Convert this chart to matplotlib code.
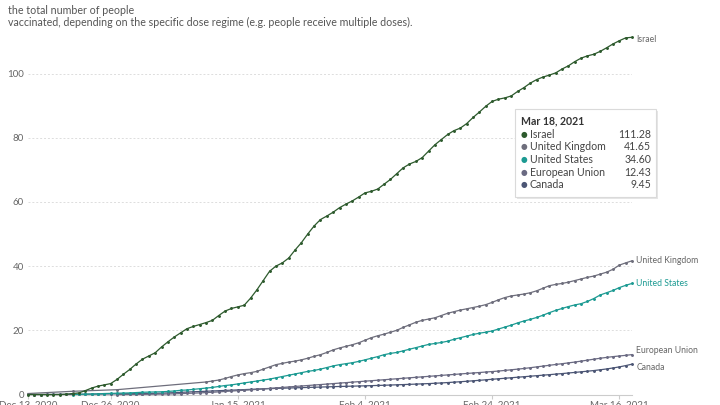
import matplotlib
matplotlib.use("Agg")
import matplotlib.pyplot as plt
from matplotlib.patches import Rectangle
import pandas as pd

plt.rcParams['font.family'] = ['Lato', 'DejaVu Sans']

# ---------------- data ----------------
subtitle_lines = ["the total number of people",
                  "vaccinated, depending on the specific dose regime (e.g. people receive multiple doses)."]

x_start = "2020-12-13"
x_end = "2021-03-18"
tick_dates = ["2020-12-13", "2020-12-26", "2021-01-15", "2021-02-04", "2021-02-24", "2021-03-16"]
tick_labels = ["Dec 13, 2020", "Dec 26, 2020", "Jan 15, 2021", "Feb 4, 2021", "Feb 24, 2021", "Mar 16, 2021"]
y_ticks = [0, 20, 40, 60, 80, 100]

israel_start = "2020-12-13"
israel = [0, 0, 0, 0, 0, 0, 0.1, 0.3, 0.5, 1.2, 2.0, 2.6, 3.0, 3.4, 4.7, 6.3, 7.8, 9.5, 11.0, 12.0,
          13.0, 14.8, 16.4, 17.9, 19.2, 20.5, 21.2, 21.8, 22.4, 23.1, 24.6, 26.0, 26.8, 27.3, 27.8,
          30.0, 32.6, 35.5, 38.4, 40.0, 41.0, 42.5, 45.0, 47.3, 50.0, 52.5, 54.5, 55.6, 56.8, 58.2,
          59.3, 60.3, 61.5, 62.8, 63.3, 64.0, 65.5, 67.0, 68.8, 70.6, 71.8, 72.6, 73.8, 75.8, 77.8,
          79.4, 81.0, 82.2, 83.0, 84.4, 86.3, 88.0, 89.8, 91.3, 92.0, 92.4, 93.0, 94.4, 95.6, 97.0,
          98.1, 98.9, 99.5, 100.2, 101.4, 102.4, 103.7, 104.8, 105.5, 106.0, 106.9, 108.0, 109.2,
          110.2, 111.1, 111.28]

uk_early_dates = ["2020-12-13", "2020-12-20", "2020-12-27"]
uk_early = [0.3, 1.0, 1.5]
uk_daily_start = "2021-01-10"
uk_daily = [3.9, 4.2, 4.5, 5.0, 5.6, 6.1, 6.5, 6.8, 7.2, 7.9, 8.6, 9.3, 9.7, 10.1, 10.4, 10.8, 11.3,
            11.9, 12.4, 13.1, 13.9, 14.5, 15.0, 15.5, 16.1, 16.9, 17.7, 18.3, 18.8, 19.4, 20.0, 20.9,
            21.7, 22.5, 23.1, 23.5, 23.9, 24.6, 25.3, 25.8, 26.3, 26.7, 27.1, 27.5, 28.0, 28.7, 29.5,
            30.2, 30.7, 31.0, 31.3, 31.7, 32.3, 33.1, 33.9, 34.3, 34.6, 35.0, 35.5, 36.0, 36.5, 36.9,
            37.5, 38.1, 39.0, 40.3, 41.0, 41.65]

us_start = "2020-12-20"
us = [0.0, 0.05, 0.1, 0.15, 0.2, 0.3, 0.35, 0.4, 0.45, 0.5, 0.6, 0.7, 0.75, 0.8, 0.85, 0.95, 1.1,
      1.3, 1.4, 1.6, 1.8, 2.0, 2.2, 2.5, 2.8, 3.0, 3.3, 3.6, 3.9, 4.2, 4.5, 4.8, 5.2, 5.6, 6.0, 6.4,
      6.8, 7.2, 7.5, 7.9, 8.4, 8.9, 9.3, 9.6, 9.9, 10.3, 10.8, 11.3, 11.8, 12.4, 12.8, 13.1, 13.6,
      14.1, 14.6, 15.1, 15.6, 15.9, 16.2, 16.6, 17.2, 17.7, 18.2, 18.7, 19.1, 19.4, 19.8, 20.4, 21.0,
      21.6, 22.3, 22.9, 23.4, 24.0, 24.7, 25.5, 26.2, 26.8, 27.4, 27.9, 28.3, 29.0, 29.9, 31.0, 31.7,
      32.4, 33.3, 34.0, 34.6]

eu_start = "2020-12-27"
eu = [0.0, 0.01, 0.02, 0.03, 0.05, 0.07, 0.09, 0.12, 0.16, 0.22, 0.28, 0.35, 0.42, 0.5, 0.6, 0.7,
      0.82, 0.95, 1.08, 1.2, 1.33, 1.45, 1.6, 1.75, 1.9, 2.05, 2.2, 2.35, 2.5, 2.65, 2.8, 2.95, 3.1,
      3.25, 3.4, 3.55, 3.7, 3.85, 4.0, 4.15, 4.3, 4.45, 4.6, 4.75, 4.9, 5.05, 5.2, 5.35, 5.5, 5.65,
      5.8, 5.95, 6.1, 6.25, 6.4, 6.55, 6.7, 6.85, 7.0, 7.15, 7.3, 7.5, 7.7, 7.9, 8.1, 8.35, 8.6,
      8.85, 9.1, 9.35, 9.6, 9.85, 10.1, 10.4, 10.7, 11.0, 11.3, 11.55, 11.8, 12.0, 12.2, 12.43]

canada_start = "2020-12-14"
canada = [0.0, 0.0, 0.01, 0.02, 0.03, 0.04, 0.05, 0.07, 0.09, 0.11, 0.13, 0.15, 0.17, 0.19, 0.22,
          0.25, 0.28, 0.31, 0.33, 0.36, 0.42, 0.5, 0.58, 0.67, 0.76, 0.85, 0.93, 1.01, 1.1, 1.18,
          1.27, 1.35, 1.44, 1.52, 1.6, 1.68, 1.76, 1.84, 1.9, 1.96, 2.02, 2.08, 2.14, 2.2, 2.26,
          2.32, 2.38, 2.44, 2.5, 2.55, 2.6, 2.65, 2.7, 2.76, 2.82, 2.88, 2.95, 3.02, 3.09, 3.16,
          3.24, 3.32, 3.4, 3.5, 3.6, 3.72, 3.85, 3.98, 4.12, 4.27, 4.42, 4.58, 4.74, 4.9, 5.06,
          5.22, 5.38, 5.54, 5.7, 5.86, 6.02, 6.18, 6.35, 6.52, 6.7, 6.88, 7.07, 7.26, 7.46, 7.7,
          7.96, 8.26, 8.6, 9.0, 9.45]

series_names = ["Israel", "United Kingdom", "United States", "European Union", "Canada"]
series_colors = ["#2d5a2d", "#6e6e7c", "#1c9a92", "#6a6a82", "#4c5675"]
label_colors = ["#666666", "#666666", "#1c9a92", "#666666", "#666666"]
tooltip_date = "Mar 18, 2021"
tooltip_values = ["111.28", "41.65", "34.60", "12.43", "9.45"]

# ---------------- build series ----------------
series = {
    "Israel": (pd.date_range(israel_start, periods=len(israel)), israel),
    "United Kingdom": (pd.DatetimeIndex(list(pd.to_datetime(uk_early_dates)) +
                                        list(pd.date_range(uk_daily_start, periods=len(uk_daily)))),
                       uk_early + uk_daily),
    "United States": (pd.date_range(us_start, periods=len(us)), us),
    "European Union": (pd.date_range(eu_start, periods=len(eu)), eu),
    "Canada": (pd.date_range(canada_start, periods=len(canada)), canada),
}

W, H = 720, 405
fig = plt.figure(figsize=(7.2, 4.05), dpi=100)
fig.patch.set_facecolor("white")

ax_left, ax_right = 28, 632
y0_px, ymax_val, px_per_unit = 394.5, 112, 3.21
ax_top = y0_px - ymax_val * px_per_unit
ax = fig.add_axes([ax_left / W, 1 - y0_px / H, (ax_right - ax_left) / W, (y0_px - ax_top) / H])

draw_order = ["Canada", "European Union", "United States", "United Kingdom", "Israel"]
for name in draw_order:
    col = series_colors[series_names.index(name)]
    d, v = series[name]
    ax.plot(d, v, color=col, lw=0.9, marker="o", ms=1.1, mec=col, mfc=col, clip_on=False, zorder=3)

ax.set_xlim(pd.Timestamp(x_start), pd.Timestamp(x_end))
ax.set_ylim(0, ymax_val)
ax.set_yticks(y_ticks)
ax.set_yticklabels([str(t) for t in y_ticks])
ax.set_xticks(pd.to_datetime(tick_dates))
ax.set_xticklabels(tick_labels)

for s in ["top", "right", "left"]:
    ax.spines[s].set_visible(False)
ax.spines["bottom"].set_color("#cccccc")
ax.spines["bottom"].set_linewidth(0.8)
ax.tick_params(axis="y", length=0, pad=3, labelsize=7, labelcolor="#666666")
ax.tick_params(axis="x", length=3, color="#cccccc", pad=1.5, labelsize=7, labelcolor="#666666")
ax.grid(axis="y", color="#dddddd", lw=0.7, ls=(0, (2, 2)))
ax.set_axisbelow(True)
for gl, t in zip(ax.get_ygridlines(), y_ticks):
    if t == 0:
        gl.set_visible(False)

# end labels
label_offsets = {"Israel": -0.8, "United Kingdom": 0, "United States": 0, "European Union": 1.2, "Canada": -0.9}
for name, lc in zip(series_names, label_colors):
    d, v = series[name]
    ax.annotate(name, xy=(d[-1], v[-1] + label_offsets[name]), xytext=(3, 0), textcoords="offset points",
                fontsize=6.2, color=lc, va="center", ha="left", annotation_clip=False)

# subtitle
fig.text(8 / W, 1 - 10 / H, subtitle_lines[0], fontsize=7.7, color="#555555", va="center", ha="left")
fig.text(8 / W, 1 - 22 / H, subtitle_lines[1], fontsize=7.7, color="#555555", va="center", ha="left")

# tooltip
bx0, by0, bx1, by1 = 515, 109, 656, 197
shadow = Rectangle((bx0 / W + 1.5 / W, 1 - (by1 + 2) / H), (bx1 - bx0) / W, (by1 - by0) / H,
                   transform=fig.transFigure, facecolor="#e6e6e6", edgecolor="none", zorder=9)
fig.patches.append(shadow)
box = Rectangle((bx0 / W, 1 - by1 / H), (bx1 - bx0) / W, (by1 - by0) / H,
                transform=fig.transFigure, facecolor="white", edgecolor="#dadada", lw=0.8, zorder=10)
fig.patches.append(box)
fig.text(521 / W, 1 - 121 / H, tooltip_date, fontsize=7.6, fontweight="bold", color="#333333",
         va="center", ha="left", zorder=11)
row_y = [134, 147, 159.5, 172, 184.5]
for name, col, val, yy in zip(series_names, series_colors, tooltip_values, row_y):
    fig.text(521 / W, 1 - yy / H, "\u25CF", fontsize=5.5, color=col, va="center", ha="left", zorder=11,
             family=["DejaVu Sans"])
    fig.text(530 / W, 1 - yy / H, name, fontsize=7.6, color="#444444", va="center", ha="left", zorder=11)
    fig.text(651 / W, 1 - yy / H, val, fontsize=7.6, color="#444444", va="center", ha="right", zorder=11)

fig.savefig("out.png", dpi=100)
